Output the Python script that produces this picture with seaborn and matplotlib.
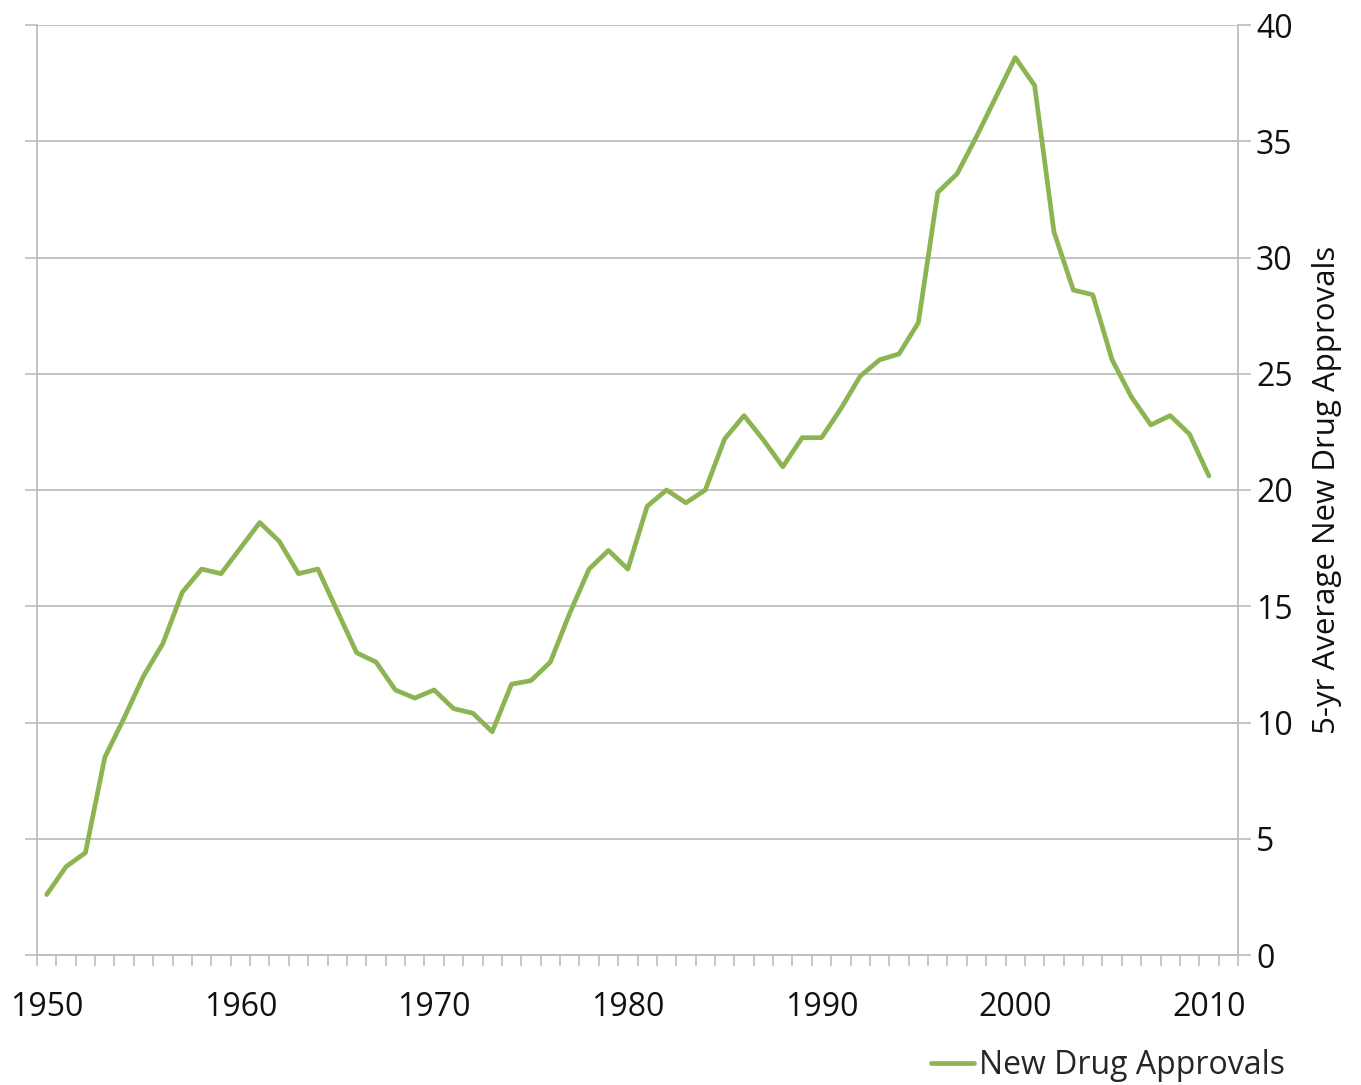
import numpy as np
import pandas as pd
import matplotlib
matplotlib.use("Agg")
import matplotlib.pyplot as plt
import seaborn as sns

years = list(range(1950, 2011))
approvals = [2.6, 3.8, 4.4, 8.5, 10.2, 12.0, 13.4, 15.6, 16.6, 16.4,
             17.5, 18.6, 17.8, 16.4, 16.6, 14.8, 13.0, 12.6, 11.4, 11.05,
             11.4, 10.6, 10.4, 9.6, 11.65, 11.8, 12.6, 14.7, 16.6, 17.4,
             16.6, 19.3, 20.0, 19.45, 20.0, 22.2, 23.2, 22.15, 21.0, 22.25,
             22.25, 23.5, 24.9, 25.6, 25.85, 27.2, 32.8, 33.6, 35.2, 36.9,
             38.6, 37.4, 31.1, 28.6, 28.4, 25.6, 24.0, 22.8, 23.2, 22.4,
             20.6]
series_name = "New Drug Approvals"
y_label = "5-yr Average New Drug Approvals"
x_tick_years = [1950, 1960, 1970, 1980, 1990, 2000, 2010]
y_ticks = [0, 5, 10, 15, 20, 25, 30, 35, 40]

df = pd.DataFrame({"Year": years, "Value": approvals, "Series": series_name})

sns.set_style("white")
plt.rcParams["font.family"] = ["Open Sans", "DejaVu Sans"]

fig = plt.figure(figsize=(13.61, 10.85), dpi=100)
ax = fig.add_axes([37 / 1361, 1 - 955 / 1085, (1238 - 37) / 1361, (955 - 25) / 1085])

grid_c = "#BDBDBD"
line_c = "#8DB452"

sns.lineplot(data=df, x="Year", y="Value", hue="Series", palette=[line_c],
             linewidth=3.4, ax=ax, legend=False)

ax.set_xlim(1949.5, 2011.5)
ax.set_ylim(0, 40)
ax.set_yticks(y_ticks)
ax.yaxis.grid(True, color=grid_c, linewidth=1.3)
ax.xaxis.grid(False)
ax.set_axisbelow(True)

ax.yaxis.tick_right()
ax.yaxis.set_label_position("right")
ax.tick_params(axis="y", which="major", left=True, right=True, labelleft=False,
               labelright=True, length=9, width=1.2, color=grid_c,
               labelsize=23, pad=4, labelcolor="#111111")
ax.set_ylabel(y_label, fontsize=22.5, color="#111111", labelpad=14)

ax.set_xticks(x_tick_years)
ax.set_xticklabels([str(y) for y in x_tick_years])
ax.set_xticks(np.arange(1949.5, 2012.0, 1.0), minor=True)
ax.tick_params(axis="x", which="major", length=0, labelsize=23, pad=26,
               labelcolor="#111111")
ax.tick_params(axis="x", which="minor", length=8, width=1.2, color=grid_c,
               direction="out", bottom=True)
ax.set_xlabel("")

for side in ["left", "right", "bottom"]:
    ax.spines[side].set_visible(True)
    ax.spines[side].set_color(grid_c)
    ax.spines[side].set_linewidth(1.3)
ax.spines["top"].set_visible(False)

handle = plt.Line2D([], [], color=line_c, linewidth=3.4)
fig.legend([handle], [series_name], loc="center",
           bbox_to_anchor=(1108 / 1361, 1 - 1066 / 1085), frameon=False,
           fontsize=23, handlelength=1.35, handletextpad=0.15)

fig.savefig("out.png", dpi=100, facecolor="white")
